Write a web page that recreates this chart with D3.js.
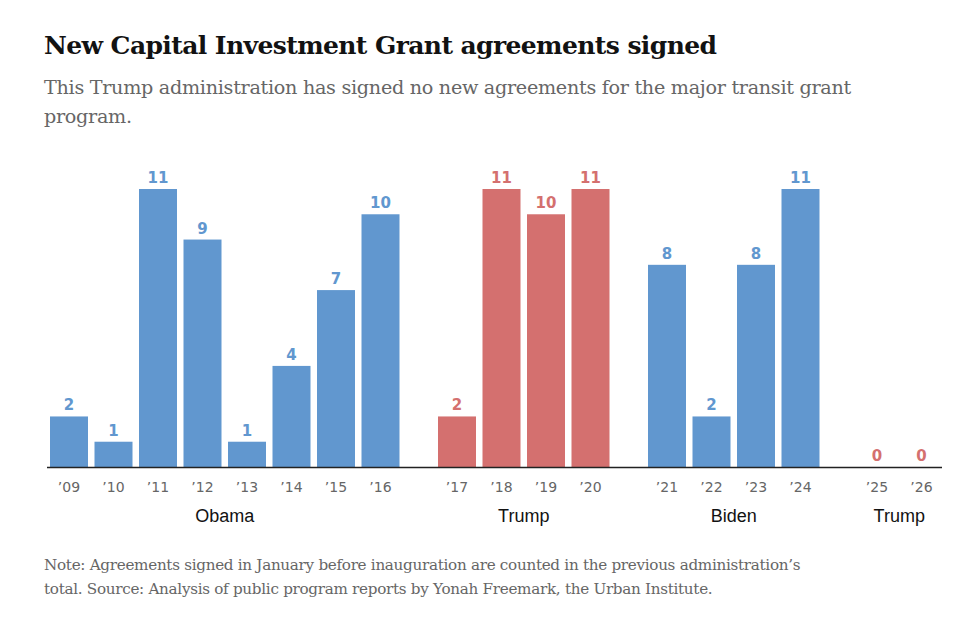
<!DOCTYPE html>
<html><head><meta charset="utf-8">
<script src="https://cdn.jsdelivr.net/npm/d3@7"></script>
<style>body{margin:0;background:#fff}</style>
</head><body><svg id="c" width="979" height="628"></svg>
<script>
const years=["’09","’10","’11","’12","’13","’14","’15","’16","’17","’18","’19","’20","’21","’22","’23","’24","’25","’26"];
const values=[2,1,11,9,1,4,7,10,2,11,10,11,8,2,8,11,0,0];
const groupOf=[0,0,0,0,0,0,0,0,1,1,1,1,2,2,2,2,3,3];
const groupNames=["Obama","Trump","Biden","Trump"];
const groupParty=["D","R","D","R"];
const colors={D:"#6197cf",R:"#d4706f"};
const svg=d3.select("#c");
const ix=d3.scaleLinear().domain([0,1]).range([50,94.5]);
const gapW=32, bw=38;
const x=i=>ix(i)+groupOf[i]*gapW;
const y=d3.scaleLinear().domain([0,11]).range([467,189]);
svg.append("text").attr("x",44).attr("y",54).attr("font-family","DejaVu Serif").attr("font-weight","bold").attr("font-size",25).attr("fill","#121212").attr("letter-spacing",-0.6).text("New Capital Investment Grant agreements signed");
const sub=["This Trump administration has signed no new agreements for the major transit grant","program."];
sub.forEach((t,k)=>svg.append("text").attr("x",44).attr("y",94+k*29).attr("font-family","DejaVu Serif").attr("font-size",19.2).attr("fill","#666").attr("letter-spacing",-0.3).text(t));
const g=svg.append("g");
years.forEach((yr,i)=>{
  const c=colors[groupParty[groupOf[i]]];
  g.append("rect").attr("x",x(i)).attr("width",bw).attr("y",y(values[i])).attr("height",y(0)-y(values[i])).attr("fill",c);
  g.append("text").attr("x",x(i)+bw/2).attr("y",y(values[i])-6).attr("text-anchor","middle").attr("font-family","DejaVu Sans").attr("font-weight","bold").attr("font-size",15).attr("fill",c).text(values[i]);
  g.append("text").attr("x",x(i)+bw/2).attr("y",492).attr("text-anchor","middle").attr("font-family","DejaVu Sans").attr("font-size",14).attr("fill","#666").text(yr);
});
g.append("line").attr("x1",47).attr("x2",942).attr("y1",467.5).attr("y2",467.5).attr("stroke","#222").attr("stroke-width",1.5);
groupNames.forEach((n,k)=>{
  const idx=years.map((_,i)=>i).filter(i=>groupOf[i]===k);
  const cx=(x(idx[0])+x(idx[idx.length-1])+bw)/2;
  g.append("text").attr("x",cx).attr("y",522).attr("text-anchor","middle").attr("font-family","Liberation Sans").attr("font-size",18).attr("fill","#121212").text(n);
});
const note=["Note: Agreements signed in January before inauguration are counted in the previous administration’s","total. Source: Analysis of public program reports by Yonah Freemark, the Urban Institute."];
note.forEach((t,k)=>svg.append("text").attr("x",44).attr("y",570+k*24).attr("font-family","DejaVu Serif").attr("font-size",15.2).attr("fill","#666").attr("letter-spacing",-0.3).text(t));
</script></body></html>
